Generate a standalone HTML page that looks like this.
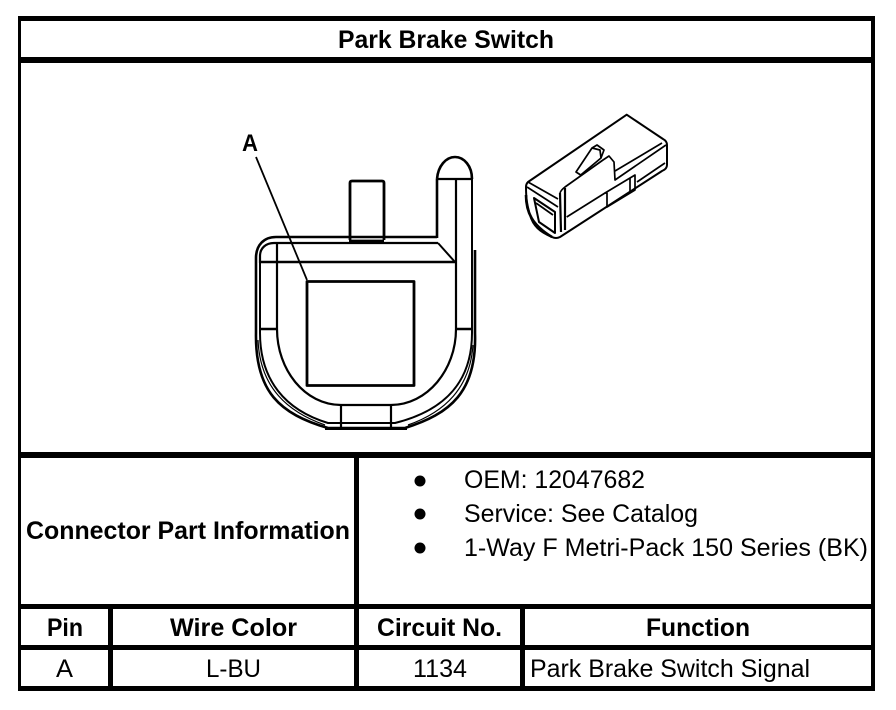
<!DOCTYPE html>
<html><head><meta charset="utf-8"><style>
html,body{margin:0;padding:0;background:#fff}
svg{display:block}
text{font-family:"Liberation Sans",Arial,sans-serif;fill:#000;font-size:25px}
.b{font-weight:bold}
.d path,.d rect,.d line{fill:none;stroke:#000;stroke-linejoin:round}
</style></head><body>
<svg width="896" height="710" viewBox="0 0 896 710" xmlns="http://www.w3.org/2000/svg">
<rect width="896" height="710" fill="#fff"/>
<g fill="#000">
<rect x="18" y="16" width="857" height="5"/>
<rect x="18" y="16" width="3" height="675"/>
<rect x="871" y="16" width="4" height="675"/>
<rect x="18" y="686" width="857" height="5"/>
<rect x="18" y="57" width="857" height="6"/>
<rect x="18" y="452" width="857" height="6"/>
<rect x="18" y="604" width="857" height="5"/>
<rect x="18" y="645" width="857" height="5"/>
<rect x="354" y="452" width="5" height="239"/>
<rect x="108" y="604" width="5" height="87"/>
<rect x="520" y="604" width="5" height="87"/>
<circle cx="420" cy="481" r="5.5"/>
<circle cx="420" cy="514" r="5.5"/>
<circle cx="420" cy="548" r="5.5"/>
</g>
<text class="b" x="338" y="48" textLength="216" lengthAdjust="spacingAndGlyphs">Park Brake Switch</text>
<text class="b" x="26" y="539" textLength="324" lengthAdjust="spacingAndGlyphs">Connector Part Information</text>
<text x="464" y="488" textLength="181" lengthAdjust="spacingAndGlyphs">OEM: 12047682</text>
<text x="464" y="522" textLength="234" lengthAdjust="spacingAndGlyphs">Service: See Catalog</text>
<text x="464" y="556" textLength="404" lengthAdjust="spacingAndGlyphs">1-Way F Metri-Pack 150 Series (BK)</text>
<text class="b" x="47" y="636" textLength="36" lengthAdjust="spacingAndGlyphs">Pin</text>
<text class="b" x="170" y="636" textLength="127" lengthAdjust="spacingAndGlyphs">Wire Color</text>
<text class="b" x="377" y="636" textLength="125" lengthAdjust="spacingAndGlyphs">Circuit No.</text>
<text class="b" x="646" y="636" textLength="104" lengthAdjust="spacingAndGlyphs">Function</text>
<text x="56" y="677" textLength="17" lengthAdjust="spacingAndGlyphs">A</text>
<text x="206" y="677" textLength="55" lengthAdjust="spacingAndGlyphs">L-BU</text>
<text x="413" y="677" textLength="54" lengthAdjust="spacingAndGlyphs">1134</text>
<text x="530" y="677" textLength="280" lengthAdjust="spacingAndGlyphs">Park Brake Switch Signal</text>
<text class="b" x="242" y="151" textLength="16" lengthAdjust="spacingAndGlyphs" style="font-size:24px">A</text>
<g class="d">
<line x1="256" y1="157" x2="307" y2="280" stroke-width="1.8"/>
<rect x="307" y="281.5" width="107" height="104" stroke-width="2.8"/>
<path d="M350 240V183Q350 181 352 181H382Q384 181 384 183V240" stroke-width="2.8"/>
<path d="M349 241H384" stroke-width="2.8"/>
<path d="M256 333V258C256 245 264 237 276 237H437" stroke-width="2.6"/>
<path d="M260 263V256C260 248 266 243 274 243H438" stroke-width="2.2"/>
<path d="M437 238V179M437 179C438 166 446 157 455 157C464 157 472 166 472 179" stroke-width="2.6"/>
<path d="M437 179H472" stroke-width="2.2"/>
<path d="M438 243L455 262" stroke-width="2"/>
<path d="M259 262H455" stroke-width="2.6"/>
<path d="M277 243V329C277 370 305 405 341 405H391C427 405 456 370 456 329V179" stroke-width="2.2"/>
<path d="M260 263V333C260 380 285 410 328 423H395C447 410 472 380 472 333V179" stroke-width="2"/>
<path d="M256 333C255 392 280 414 328 428H405C450 414 477 392 475 333V250" stroke-width="2.6"/>
<path d="M258 340C260 388 288 412 325 425M408 425C445 412 470 388 473 345" stroke-width="1.2"/>
<path d="M260 329H277M456 329H472" stroke-width="2.6"/>
<path d="M341 405V428M391 405V428" stroke-width="2.2"/>
<path d="M328 423H393" stroke-width="2"/>
<path d="M325 428.500H407" stroke-width="3"/>
</g>
<g class="d" stroke-width="1.7">
<path d="M528 182L626.700 114.700L663 139Q667 141 667 145V165Q667 169 662 171L560 237Q556 239 552 237C540 232 533 226 530 215C527 205 526 198 526 187Q526 184 528 182Z" stroke-width="2"/>
<path d="M528 182L558 199M527 187L558 207"/>
<path d="M526 195C526 212 532 225 552 237" stroke-width="2.6"/>
<path d="M560 193Q561 190 565 187L603 160L609 156L614 162L615 180L666 145"/>
<path d="M560 193L561 232M565 188V230" stroke-width="2.2"/>
<path d="M615 171L662 143M637 182L665 163"/>
<path d="M566.700 217L605 193"/>
<path d="M605 193L630 178L635 175V190L607 207V193Z"/>
<path d="M630 178V191"/>
<path d="M576 172L592 148L597 145L604 150L601 158L580.700 175Z"/>
<path d="M592 148L600 150L601 158"/>
<path d="M534 198L555 212V233L539 222Z" stroke-width="2"/>
<path d="M536 203L553 215"/>
</g>
</svg>
</body></html>
